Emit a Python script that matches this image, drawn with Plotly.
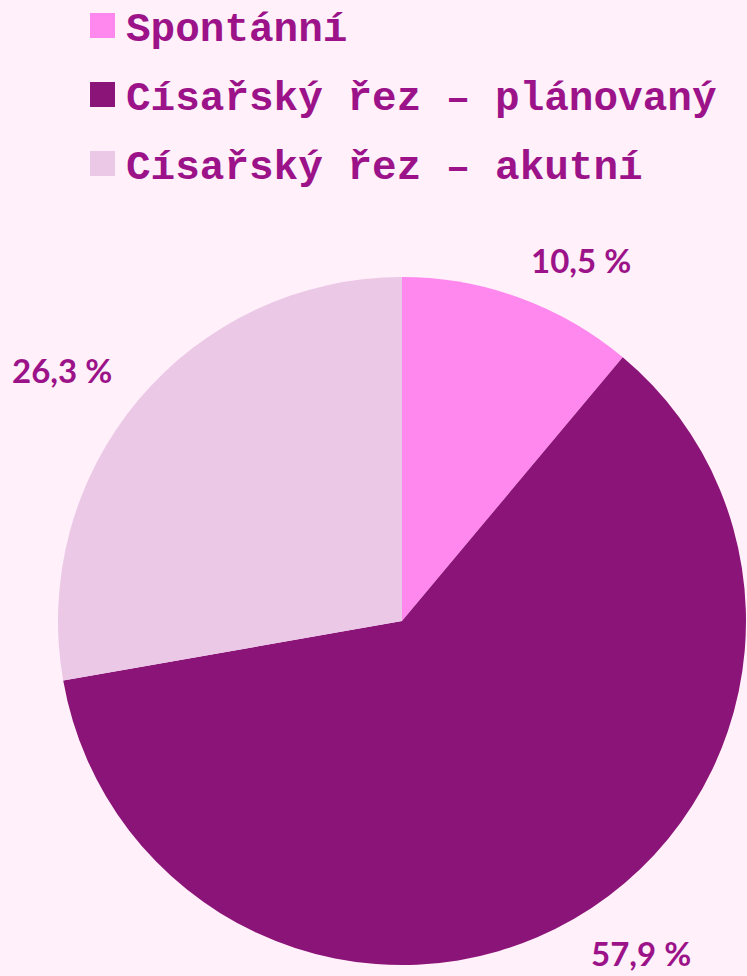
import math
import plotly.graph_objects as go

# data
labels = ["Spontánní", "Císařský řez – plánovaný", "Císařský řez – akutní"]
values = [10.5, 57.9, 26.3]
value_text = ["10,5 %", "57,9 %", "26,3 %"]
colors = ["#ff88ee", "#8b1478", "#ebc8e6"]

W, H = 747, 976
bg = "#fff0fa"
text_color = "#9c1389"

# pie placement in pixels
cx, cy, R = 402, 621, 344

fig = go.Figure()
fig.add_trace(go.Pie(
    labels=labels,
    values=values,
    marker=dict(colors=colors, line=dict(width=0)),
    sort=False,
    direction="clockwise",
    rotation=0,
    textinfo="none",
    showlegend=False,
    hoverinfo="label+value",
    domain=dict(x=[(cx - R) / W, (cx + R) / W],
                y=[1 - (cy + R) / H, 1 - (cy - R) / H]),
))

# data labels just outside each slice, placed from its mid angle
total = sum(values)
cum = 0
for v, t in zip(values, value_text):
    mid = (cum + v / 2) / total * 2 * math.pi
    cum += v
    dx = math.sin(mid)
    dy = math.cos(mid)
    lx = cx + 1.1 * R * dx + (50 if dx > 0 else -50)
    ly = cy - 1.08 * R * dy + (-14 if dy > 0 else 14) + 2
    ly = min(ly, H - 23)  # keep the bottom label inside the frame
    fig.add_annotation(
        x=lx / W, y=1 - ly / H, xref="paper", yref="paper",
        text=t, showarrow=False, xanchor="center", yanchor="middle",
        borderpad=0,
        font=dict(family="Lato", size=33, color=text_color, weight="bold"),
    )

# legend drawn by hand
row_h = 69
for i, (lab, col) in enumerate(zip(labels, colors)):
    yc = 25.5 + i * row_h
    fig.add_shape(type="rect", xref="paper", yref="paper",
                  x0=90 / W, x1=115 / W,
                  y0=1 - (yc + 12.5) / H, y1=1 - (yc - 12.5) / H,
                  fillcolor=col, line=dict(width=0))
    fig.add_annotation(
        x=124 / W, y=1 - (yc + 4) / H, xref="paper", yref="paper",
        text=lab, showarrow=False, xanchor="left", yanchor="middle",
        font=dict(family="Liberation Mono", size=41, color=text_color, weight="bold"),
    )

fig.update_layout(
    width=W, height=H,
    margin=dict(l=0, r=0, t=0, b=0),
    paper_bgcolor=bg,
    plot_bgcolor=bg,
)

fig.write_html("out.html", config={"displayModeBar": False},
               post_script="document.body.style.margin='0';")
